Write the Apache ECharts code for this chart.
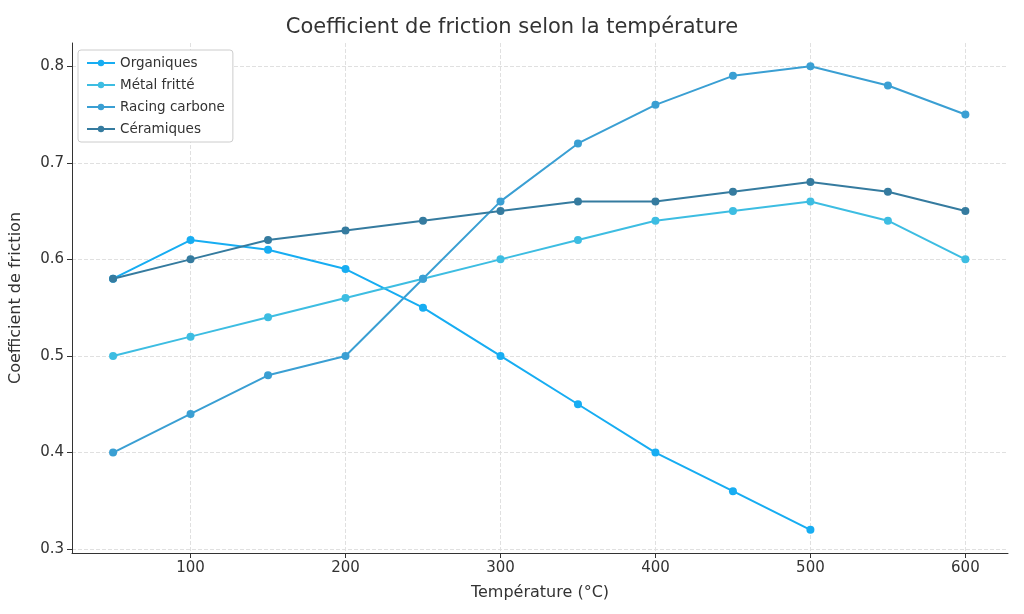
<!DOCTYPE html><html><head><meta charset="utf-8"><script src="https://cdn.jsdelivr.net/npm/echarts@6/dist/echarts.min.js"></script></head><body style="margin:0"><div id="c" style="width:1024px;height:614px"></div><script>
const temps=[50,100,150,200,250,300,350,400,450,500,550,600];
const organiques=[0.58,0.62,0.61,0.59,0.55,0.5,0.45,0.4,0.36,0.32];
const metal=[0.5,0.52,0.54,0.56,0.58,0.6,0.62,0.64,0.65,0.66,0.64,0.6];
const racing=[0.4,0.44,0.48,0.5,0.58,0.66,0.72,0.76,0.79,0.8,0.78,0.75];
const ceram=[0.58,0.6,0.62,0.63,0.64,0.65,0.66,0.66,0.67,0.68,0.67,0.65];
const xTicks=[100,200,300,400,500,600];
const yTicks=[0.3,0.4,0.5,0.6,0.7,0.8];
const names=['Organiques','Métal fritté','Racing carbone','Céramiques'];
const colors=['#17adf2','#3dbde2','#3a9fd3','#357b9f'];
const f='DejaVu Sans';
const mk=(n,d,c)=>({name:n,type:'line',data:d.map((v,i)=>[temps[i],v]),color:c,symbol:'circle',symbolSize:8,lineStyle:{width:2},emphasis:{disabled:true}});
const ch=echarts.init(document.getElementById('c'));
ch.setOption({animation:false,textStyle:{fontFamily:f},
title:{text:'Coefficient de friction selon la température',left:'center',top:12,textStyle:{fontFamily:f,fontSize:21,fontWeight:'normal',color:'#333'}},
legend:{orient:'vertical',left:78,top:50,itemWidth:28,itemHeight:8,itemGap:8,padding:[6,8],borderColor:'#ccc',borderWidth:1,borderRadius:3,backgroundColor:'#fff',textStyle:{fontFamily:f,fontSize:13.5,color:'#333'},data:names},
grid:{left:72,right:16,top:43,bottom:61},
xAxis:{type:'value',min:23.5,max:627.5,name:'Température (°C)',nameLocation:'middle',nameGap:32,nameTextStyle:{fontSize:16,color:'#333'},
axisLine:{lineStyle:{color:'#333'}},axisTick:{customValues:xTicks,length:5,lineStyle:{color:'#333'}},axisLabel:{customValues:xTicks,fontSize:15,color:'#333'},splitLine:{show:true,lineStyle:{type:'dashed',color:'#e0e0e0'}}},
yAxis:{type:'value',min:0.296,max:0.824,name:'Coefficient de friction',nameLocation:'middle',nameGap:48,nameTextStyle:{fontSize:16,color:'#333'},
axisLine:{show:true,lineStyle:{color:'#333'}},axisTick:{show:true,customValues:yTicks,length:5,lineStyle:{color:'#333'}},axisLabel:{customValues:yTicks,fontSize:15,color:'#333',formatter:v=>v.toFixed(1)},splitLine:{show:true,lineStyle:{type:'dashed',color:'#e0e0e0'}}},
series:[mk(names[0],organiques,colors[0]),mk(names[1],metal,colors[1]),mk(names[2],racing,colors[2]),mk(names[3],ceram,colors[3])]});
</script></body></html>
